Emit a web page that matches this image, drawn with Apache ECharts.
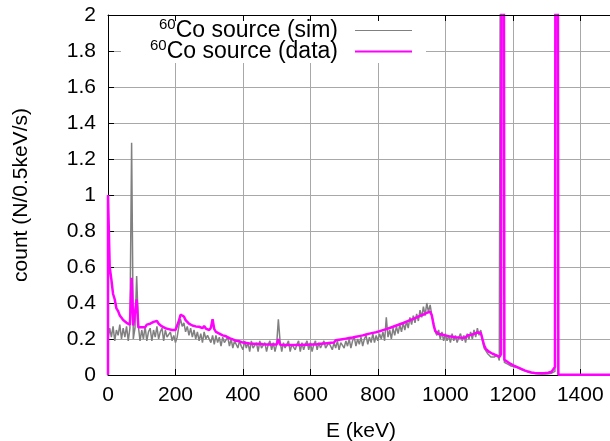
<!DOCTYPE html>
<html><head><meta charset="utf-8">
<script src="https://cdn.jsdelivr.net/npm/echarts@6/dist/echarts.min.js"></script>
<style>html,body{margin:0;padding:0;background:#fff}#c{width:610px;height:441px}</style>
</head><body><div id="c"></div><script>
// Energy bins: 5 keV wide, starting at 0 keV
const binWidth = 5;
const xTicks = { min: 0, max: 1500, interval: 200 };
const yTicks = { min: 0, max: 2, interval: 0.2 };
const seriesNames = ['sim', 'data'];
const legendLabels = ['Co source (sim)', 'Co source (data)'];

// 60Co source (sim), counts per bin, 0..1500 keV
const simCounts = [
  0.20,0.26,0.21,0.27,0.19,0.25,0.22,0.28,0.20,0.26, 0.21,0.27,0.19,0.26,1.29,0.20,0.26,0.55,0.27,0.19,
  0.25,0.20,0.27,0.19,0.24,0.26,0.19,0.25,0.21,0.27, 0.20,0.24,0.26,0.19,0.25,0.21,0.20,0.24,0.19,0.22,
  0.18,0.21,0.27,0.31,0.27,0.29,0.24,0.27,0.22,0.26, 0.21,0.25,0.20,0.24,0.19,0.23,0.18,0.24,0.20,0.22,
  0.23,0.18,0.22,0.17,0.22,0.18,0.21,0.16,0.21,0.18, 0.17,0.21,0.16,0.20,0.15,0.19,0.19,0.15,0.19,0.16,
  0.14,0.19,0.15,0.18,0.13,0.19,0.15,0.14,0.18,0.13, 0.19,0.15,0.14,0.18,0.13,0.17,0.19,0.14,0.18,0.13,
  0.17,0.31,0.19,0.13,0.18,0.15,0.14,0.19,0.13,0.17, 0.18,0.14,0.17,0.19,0.13,0.18,0.14,0.17,0.19,0.14,
  0.18,0.13,0.17,0.19,0.14,0.18,0.15,0.14,0.19,0.15, 0.14,0.18,0.19,0.14,0.18,0.15,0.19,0.14,0.18,0.19,
  0.15,0.19,0.16,0.20,0.15,0.19,0.21,0.16,0.20,0.17, 0.21,0.16,0.20,0.22,0.17,0.21,0.18,0.23,0.18,0.22,
  0.19,0.23,0.20,0.24,0.19,0.32,0.21,0.25,0.20,0.26, 0.22,0.27,0.23,0.28,0.24,0.29,0.25,0.30,0.26,0.32,
  0.28,0.33,0.29,0.34,0.30,0.36,0.32,0.38,0.33,0.40, 0.35,0.39,0.33,0.29,0.24,0.22,0.25,0.20,0.24,0.19,
  0.23,0.19,0.22,0.18,0.23,0.19,0.22,0.18,0.21,0.23, 0.19,0.22,0.18,0.23,0.20,0.24,0.20,0.25,0.21,0.26,
  0.22,0.25,0.19,0.15,0.14,0.12,0.13,0.10,0.11,0.10, 0.09,0.11,0.08,0.09,8,0.07,0.075,0.06,0.065,0.05,
  0.05,0.045,0.04,0.04,0.035,0.03,0.028,0.024,0.02,0.018, 0.015,0.012,0.01,0.009,0.008,0.007,0.006,0.006,0.005,0.005,
  0.006,0.007,0.008,0.01,0.014,0.02,8,0.002,0,0, 0,0,0,0,0,0,0,0,0,0,
  0,0,0,0,0,0,0,0,0,0, 0,0,0,0,0,0,0,0,0,0, 0
];

// 60Co source (data), counts per bin, 0..1500 keV
const dataLead = [[0, 0]];
const dataCounts = [
  1.0,0.60,0.53,0.45,0.42,0.37,0.355,0.33,0.325,0.305, 0.305,0.29,0.295,0.28,0.54,0.275,0.285,0.42,0.265,0.275,
  0.265,0.27,0.265,0.28,0.27,0.285,0.28,0.295,0.285,0.30, 0.285,0.285,0.27,0.275,0.26,0.265,0.255,0.262,0.25,0.258,
  0.25,0.275,0.30,0.335,0.33,0.325,0.305,0.305,0.285,0.29, 0.275,0.285,0.27,0.278,0.268,0.275,0.26,0.272,0.258,0.268,
  0.25,0.262,0.31,0.255,0.24,0.245,0.23,0.235,0.22,0.225, 0.215,0.22,0.205,0.21,0.198,0.203,0.19,0.196,0.187,0.193,
  0.18,0.188,0.178,0.186,0.175,0.183,0.174,0.182,0.172,0.18, 0.173,0.18,0.171,0.179,0.17,0.178,0.17,0.177,0.169,0.177,
  0.17,0.20,0.168,0.177,0.167,0.176,0.167,0.175,0.166,0.176, 0.166,0.175,0.167,0.176,0.167,0.176,0.168,0.177,0.168,0.178,
  0.169,0.179,0.17,0.18,0.171,0.182,0.173,0.184,0.175,0.186, 0.177,0.188,0.179,0.19,0.181,0.193,0.184,0.196,0.187,0.199,
  0.19,0.202,0.193,0.205,0.196,0.208,0.199,0.212,0.203,0.216, 0.207,0.22,0.211,0.225,0.215,0.23,0.22,0.234,0.224,0.238,
  0.229,0.243,0.234,0.249,0.24,0.255,0.246,0.261,0.252,0.268, 0.258,0.275,0.265,0.282,0.272,0.289,0.279,0.297,0.287,0.305,
  0.295,0.312,0.302,0.32,0.31,0.328,0.318,0.336,0.326,0.345, 0.335,0.352,0.33,0.28,0.245,0.243,0.228,0.235,0.225,0.233,
  0.22,0.228,0.216,0.225,0.213,0.222,0.21,0.22,0.208,0.218, 0.207,0.218,0.208,0.22,0.21,0.223,0.214,0.228,0.222,0.236,
  0.228,0.235,0.20,0.165,0.145,0.135,0.128,0.122,0.118,0.113, 0.11,0.105,0.10,0.115,8,0.085,0.078,0.072,0.066,0.06,
  0.055,0.05,0.046,0.042,0.038,0.034,0.03,0.026,0.022,0.019, 0.016,0.014,0.012,0.011,0.01,0.01,0.01,0.01,0.01,0.011,
  0.012,0.013,0.015,0.018,0.025,0.045,8,0.003,0.002,0.002, 0.002,0.002,0.002,0.002,0.002,0.002,0.002,0.002,0.002,0.002,
  0.002,0.002,0.002,0.002,0.002,0.002,0.002,0.002,0.002,0.002, 0.002,0.002,0.002,0.002,0.002,0.002,0.002,0.002,0.002,0.002, 0.002
];

const FONT = 'Liberation Sans';
const FS = 21;
const toPairs = arr => arr.map((v, i) => [i * binWidth, v]);
const chart = echarts.init(document.getElementById('c'), null, { renderer: 'canvas' });

const rich = {
  s: { fontSize: 15, fontFamily: FONT, color: '#000', lineHeight: 11, verticalAlign: 'top' },
  t: { fontSize: 23, fontFamily: FONT, color: '#000', lineHeight: 27, padding: [0, 12, 0, 0] }
};
function mkLegend(i, top, h) {
  return {
    data: [{ name: seriesNames[i], icon: 'rect' }],
    orient: 'vertical', align: 'right', right: 198, top: top,
    itemWidth: 57, itemHeight: h, padding: 0, selectedMode: false, z: 5,
    formatter: () => '{s|60}{t|' + legendLabels[i] + '}',
    textStyle: { rich: rich }
  };
}

const axisCommon = {
  type: 'value', min: xTicks.min, max: xTicks.max, interval: xTicks.interval
};

chart.setOption({
  animation: false,
  backgroundColor: '#fff',
  grid: { left: 108, top: 15, width: 506, height: 360, containLabel: false, outerBoundsMode: 'none' },
  graphic: [{ type: 'rect', z: 1, shape: { x: 121, y: 16, width: 305, height: 47 }, style: { fill: '#fff' }, silent: true }],
  legend: [mkLegend(0, 17, 1), mkLegend(1, 38, 2)],
  xAxis: [
    Object.assign({}, axisCommon, {
      position: 'bottom', z: 0,
      name: 'E (keV)', nameLocation: 'middle', nameGap: 46,
      nameTextStyle: { fontFamily: FONT, fontSize: FS, color: '#000' },
      axisLine: { show: true, onZero: false, lineStyle: { color: '#000', width: 1 } },
      axisTick: { show: true, inside: true, length: 6, lineStyle: { color: '#000' } },
      axisLabel: { fontFamily: FONT, fontSize: FS, color: '#000', margin: 10, showMaxLabel: false,
                   formatter: v => String(v) },
      splitLine: { show: true, lineStyle: { color: '#a8a8a8', width: 1 } }
    }),
    Object.assign({}, axisCommon, {
      position: 'top', z: 3,
      axisLine: { show: true, onZero: false, lineStyle: { color: '#000', width: 1 } },
      axisTick: { show: true, inside: true, length: 6, lineStyle: { color: '#000' } },
      axisLabel: { show: false },
      splitLine: { show: false }
    })
  ],
  yAxis: {
    type: 'value', min: yTicks.min, max: yTicks.max, interval: yTicks.interval, z: 0,
    name: 'count (N/0.5keV/s)', nameLocation: 'middle', nameGap: 76,
    nameTextStyle: { fontFamily: FONT, fontSize: FS, color: '#000' },
    axisLine: { show: true, onZero: false, lineStyle: { color: '#000', width: 1 } },
    axisTick: { show: true, inside: true, length: 6, lineStyle: { color: '#000' } },
    axisLabel: { fontFamily: FONT, fontSize: FS, color: '#000', margin: 12 },
    splitLine: { show: true, lineStyle: { color: '#a8a8a8', width: 1 } }
  },
  series: [
    {
      name: seriesNames[0], type: 'line', data: toPairs(simCounts), xAxisIndex: 0,
      symbol: 'none', showSymbol: false, sampling: null, clip: true, z: 2,
      color: '#808080', lineStyle: { color: '#808080', width: 1.5 }
    },
    {
      name: seriesNames[1], type: 'line', data: dataLead.concat(toPairs(dataCounts)), xAxisIndex: 0,
      symbol: 'none', showSymbol: false, sampling: null, clip: true, z: 2,
      color: '#ff00ff', lineStyle: { color: '#ff00ff', width: 2.5 }
    }
  ]
});
</script></body></html>
